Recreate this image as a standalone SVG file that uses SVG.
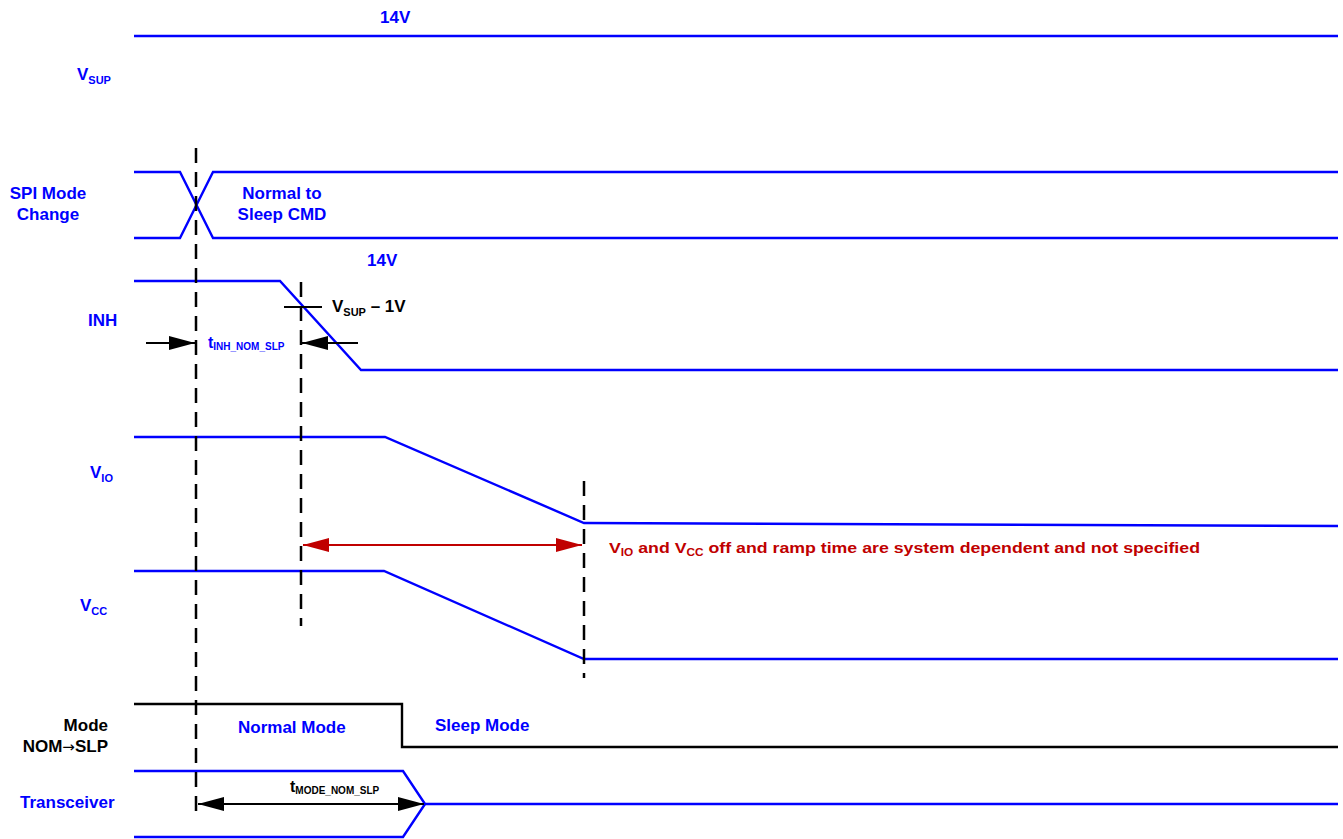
<svg xmlns="http://www.w3.org/2000/svg" width="1343" height="839" viewBox="0 0 1343 839">
<style>
text{font-family:"Liberation Sans",Arial,sans-serif;font-weight:bold}
.lb{fill:#0000ff;font-size:17px}
.bk{fill:#000;font-size:17px}
.sub{font-size:11px}
.sig{fill:none;stroke:#0000ff;stroke-width:2.4}
.sigk{fill:none;stroke:#000;stroke-width:2.4}
.dash{fill:none;stroke:#000;stroke-width:2.5;stroke-dasharray:15 9}
.ar{fill:none;stroke:#000;stroke-width:2}
.red{fill:none;stroke:#c00000;stroke-width:2}
</style>
<defs>
<marker id="ah" viewBox="0 0 26 14" refX="26" refY="7" markerWidth="26" markerHeight="14" markerUnits="userSpaceOnUse" orient="auto-start-reverse"><path d="M0,0 L26,7 L0,14 Z" fill="#000"/></marker>
<marker id="ahr" viewBox="0 0 26 14" refX="26" refY="7" markerWidth="26" markerHeight="14" markerUnits="userSpaceOnUse" orient="auto-start-reverse"><path d="M0,0 L26,7 L0,14 Z" fill="#c00000"/></marker>
</defs>

<g id="vsup">
<path class="sig" d="M134,36 H1338"/>
<text class="lb" x="380" y="23">14V</text>
<text class="lb" x="77" y="80">V<tspan class="sub" dy="4">SUP</tspan></text>
</g>

<g id="spi">
<path class="sig" d="M134,172 H180 L213,238 H1338"/>
<path class="sig" d="M134,238 H180 L213,172 H1338"/>
<text class="lb" x="48" y="199" text-anchor="middle">SPI Mode</text>
<text class="lb" x="48" y="220" text-anchor="middle">Change</text>
<text class="lb" x="282" y="199" text-anchor="middle">Normal to</text>
<text class="lb" x="282" y="220" text-anchor="middle">Sleep CMD</text>
</g>

<g id="inh">
<path class="sig" d="M134,281 H280 L361,370 H1338"/>
<text class="lb" x="367" y="266">14V</text>
<text class="lb" x="88" y="326">INH</text>
<path class="ar" d="M284,307 H322"/>
<text class="bk" x="332" y="312">V<tspan class="sub" dy="4">SUP</tspan><tspan dy="-4"> – 1V</tspan></text>
<text fill="#0000ff" font-size="16" x="208" y="348">t<tspan font-size="10" dy="2">INH_NOM_SLP</tspan></text>
</g>

<g id="vio">
<path class="sig" d="M134,437 H385 L584,523 L1338,526"/>
<text class="lb" x="90" y="478">V<tspan class="sub" dy="4">IO</tspan></text>
</g>

<g id="vcc">
<path class="sig" d="M134,571 H384 L584,659 H1338"/>
<text class="lb" x="80" y="611">V<tspan class="sub" dy="4">CC</tspan></text>
</g>

<g id="mode">
<path class="sigk" d="M134,704 H402 V747 H1338"/>
<text class="bk" x="108" y="731" text-anchor="end">Mode</text>
<text class="bk" x="108" y="752" text-anchor="end">NOM<tspan font-family="DejaVu Sans" font-weight="normal" font-size="15">→</tspan>SLP</text>
<text class="lb" x="238" y="733">Normal Mode</text>
<text class="lb" x="435" y="731">Sleep Mode</text>
</g>

<g id="transceiver">
<path class="sig" d="M134,771 H403 L425,804 H1338"/>
<path class="sig" d="M134,837 H403 L425,804"/>
<text class="lb" x="20" y="808">Transceiver</text>
<text fill="#000" font-size="16" x="290" y="792">t<tspan font-size="10" dy="2">MODE_NOM_SLP</tspan></text>
</g>

<g id="note">
<text fill="#c00000" font-size="15" x="609" y="553" textLength="591" lengthAdjust="spacingAndGlyphs">V<tspan font-size="10" dy="3">IO</tspan><tspan dy="-3"> and V</tspan><tspan font-size="10" dy="3">CC</tspan><tspan dy="-3"> off and ramp time are system dependent and not specified</tspan></text>
</g>

<g id="connectors">
<path class="dash" d="M196,148 V819"/>
<path class="dash" d="M301,282 V626"/>
<path class="dash" d="M584,481 V678"/>
<path class="ar" d="M146,343 H195" marker-end="url(#ah)"/>
<path class="ar" d="M358,343 H302" marker-end="url(#ah)"/>
<path class="ar" d="M198,804 H424" marker-start="url(#ah)" marker-end="url(#ah)"/>
<path class="red" d="M303,545 H582" marker-start="url(#ahr)" marker-end="url(#ahr)"/>
</g>
</svg>
